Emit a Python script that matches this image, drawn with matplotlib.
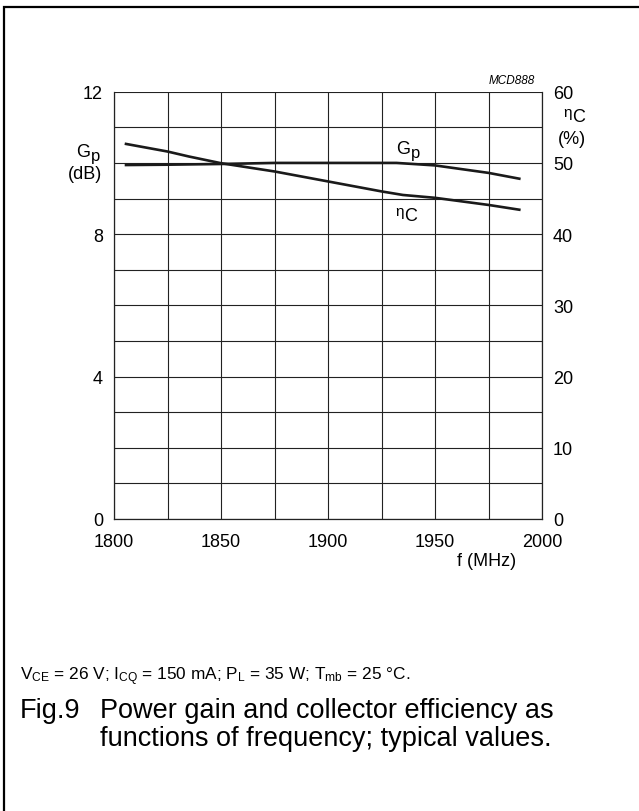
import matplotlib
matplotlib.use('Agg')
import matplotlib.pyplot as plt
from matplotlib.patches import Rectangle
import numpy as np

plt.rcParams['font.family'] = ['Liberation Sans', 'DejaVu Sans']
plt.rcParams['mathtext.fontset'] = 'custom'
plt.rcParams['mathtext.rm'] = 'Liberation Sans'
plt.rcParams['mathtext.it'] = 'Liberation Sans:italic'

# Data
freq_gp = [1805, 1825, 1850, 1875, 1900, 1932, 1950, 1975, 1990]
gp_db = [9.94, 9.95, 9.97, 10.0, 10.0, 10.0, 9.93, 9.72, 9.55]
freq_eta = [1805, 1825, 1835, 1850, 1875, 1900, 1925, 1935, 1950, 1975, 1990]
eta_pct = [52.7, 51.6, 50.9, 49.96, 48.8, 47.4, 46.0, 45.5, 45.1, 44.1, 43.4]

x_ticks = list(range(1800, 2001, 25))
x_labels = ['1800', '', '1850', '', '1900', '', '1950', '', '2000']
yl_ticks = list(range(0, 13))
yl_labels = ['0', '', '', '', '4', '', '', '', '8', '', '', '', '12']
yr_ticks = [0, 10, 20, 30, 40, 50, 60]
yr_labels = ['0', '10', '20', '30', '40', '50', '60']

W, H = 639, 812
fig = plt.figure(figsize=(W / 100, H / 100), dpi=100)
fig.patch.set_facecolor('white')

# outer frame (top and left visible)
fig.add_artist(Rectangle((4 / W, -0.2), 1.2, 1 - 8 / H + 0.2, transform=fig.transFigure,
                         fill=False, edgecolor='black', lw=1.6))

ax = fig.add_axes([114 / W, 292 / H, 428 / W, 427.3 / H])
ax.set_xlim(1800, 2000)
ax.set_ylim(0, 12)
ax.set_xticks(x_ticks)
ax.set_xticklabels(x_labels)
ax.set_yticks(yl_ticks)
ax.set_yticklabels(yl_labels)
ax.grid(True, color='#222222', lw=0.8)
ax.tick_params(length=0, labelsize=13, pad=10)
ax.tick_params(axis='y', pad=8)
for s in ax.spines.values():
    s.set_linewidth(0.9)
    s.set_color('#222222')
ax.spines['top'].set_visible(False)

ax2 = ax.twinx()
ax2.set_ylim(0, 60)
ax2.set_yticks(yr_ticks)
ax2.set_yticklabels(yr_labels)
ax2.tick_params(length=0, labelsize=13, pad=8)
for s in ax2.spines.values():
    s.set_visible(False)

ax.plot(freq_gp, gp_db, color='#1a1a1a', lw=1.9, solid_capstyle='butt')
ax2.plot(freq_eta, eta_pct, color='#1a1a1a', lw=1.9, solid_capstyle='butt')


def sym(x, y, main, sub, main_size, sub_size, sub_dx, sub_dy):
    """Main glyph with a near full-size lowered subscript (pixel coords)."""
    fig.text(x / W, 1 - y / H, main, fontsize=main_size, ha='left', va='baseline')
    fig.text((x + sub_dx) / W, 1 - (y + sub_dy) / H, sub, fontsize=sub_size,
             ha='left', va='baseline')


# axis labels
sym(76, 157, 'G', 'p', 13, 12, 14.5, 4)
fig.text(85 / W, 1 - 175 / H, '(dB)', fontsize=13, ha='center', va='center')
sym(563, 117, 'η', 'C', 11, 13, 9, 5)
fig.text(572 / W, 1 - 139 / H, '(%)', fontsize=13, ha='center', va='center')
fig.text(535 / W, 1 - 81 / H, 'MCD888', fontsize=8.5, style='italic', ha='right', va='center')
fig.text(487 / W, 1 - 562 / H, 'f (MHz)', fontsize=13, ha='center', va='center')
# curve labels
sym(396, 154, 'G', 'p', 13, 12, 14.5, 4)
sym(395, 216, 'η', 'C', 11, 13, 9, 5)

fig.text(20 / W, 1 - 677 / H,
         r'$\mathregular{V_{CE}}$ = 26 V; $\mathregular{I_{CQ}}$ = 150 mA; '
         r'$\mathregular{P_L}$ = 35 W; $\mathregular{T_{mb}}$ = 25 °C.',
         fontsize=12.4, ha='left', va='center')
fig.text(20 / W, 1 - 711 / H, 'Fig.9', fontsize=19.5, ha='left', va='center')
fig.text(100 / W, 1 - 711 / H, 'Power gain and collector efficiency as', fontsize=19.5,
         ha='left', va='center')
fig.text(100 / W, 1 - 739 / H, 'functions of frequency; typical values.', fontsize=19.5,
         ha='left', va='center')

fig.savefig('out.png', dpi=100, facecolor='white')
